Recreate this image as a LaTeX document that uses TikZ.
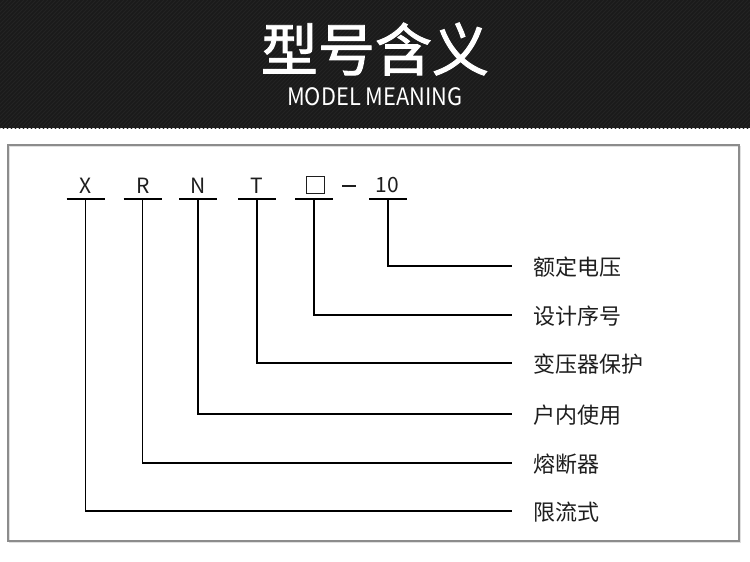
\documentclass[tikz,border=0pt]{standalone}
\usepackage{fontspec}
\usepackage{graphicx}
\setmainfont{Noto Sans CJK SC}
\newfontfamily\titlefont[FakeBold=1.6]{Noto Sans CJK SC}
\definecolor{hdr}{HTML}{1A1A1A}
\definecolor{stripe}{HTML}{232323}
\definecolor{boxgray}{HTML}{8C8C8C}
\definecolor{labtext}{HTML}{1E1E1E}
\tikzset{
  ln/.style={line width=1.2pt, black},
  code/.style={inner sep=0pt, font=\fontsize{21}{21}\selectfont, text=labtext},
  lab/.style={inner sep=0pt, anchor=west, font=\fontsize{22}{22}\selectfont, text=labtext},
}
\begin{document}
\begin{tikzpicture}[x=1pt,y=-1pt]
\useasboundingbox (0,0) rectangle (750,562);
\fill[white] (0,0) rectangle (750,562);
% header
\fill[hdr] (0,0) rectangle (750,128);
\begin{scope}
  \clip (0,0) rectangle (750,128);
  \foreach \i in {0,4,...,900} \draw[stripe, line width=1pt] (\i,0) -- (\i-130,130);
\end{scope}
\node[white, inner sep=0pt, font=\titlefont\fontsize{57}{57}\selectfont] (title) at (375,49) {型号含义};
\node[white, inner sep=0pt, font=\fontsize{24}{24}\selectfont] (subtitle) at (375,96.5) {\scalebox{0.91}[1]{MODEL MEANING}};
% frame
\draw[black!12, line width=1.5pt] (9.5,146.5) rectangle (740.5,542.5);
\draw[boxgray, line width=1.3pt] (8,145) rectangle (739,541);
% code letters
\node[code] (cX) at (85.7,185.5) {X};
\node[code] (cR) at (142.7,185.5) {R};
\node[code] (cN) at (198,185.5) {N};
\node[code] (cT) at (257,185.5) {T};
\node[draw=labtext, line width=1pt, minimum width=18pt, minimum height=17pt, inner sep=0pt] (cB) at (315,184.7) {};
\node[inner sep=0pt] (dash) at (349,186) {\color{labtext}\rule{14pt}{1.2pt}};
\node[code] (c10) at (387,185.5) {10};
% underline centres
\coordinate (uX) at (85.7,199);
\coordinate (uR) at (142.7,199);
\coordinate (uN) at (198,199);
\coordinate (uT) at (257,199);
\coordinate (uB) at (314,199);
\coordinate (u10) at (388,199);
\foreach \u in {uX,uR,uN,uT,uB,u10}
  \draw[ln] ([xshift=-19pt]\u) -- ([xshift=19pt]\u);
% labels
\node[lab] (l10) at (533,267) {额定电压};
\node[lab] (lB)  at (533,316) {设计序号};
\node[lab] (lT)  at (533,364) {变压器保护};
\node[lab] (lN)  at (533,415) {户内使用};
\node[lab] (lR)  at (533,464) {熔断器};
\node[lab] (lX)  at (533,512) {限流式};
% connectors
\draw[ln] (u10) |- ([xshift=-21pt,yshift=1pt]l10.west);
\draw[ln] (uB)  |- ([xshift=-21pt,yshift=1pt]lB.west);
\draw[ln] (uT)  |- ([xshift=-21pt,yshift=1pt]lT.west);
\draw[ln] (uN)  |- ([xshift=-21pt,yshift=1pt]lN.west);
\draw[ln] (uR)  |- ([xshift=-21pt,yshift=1pt]lR.west);
\draw[ln] (uX)  |- ([xshift=-21pt,yshift=1pt]lX.west);
\end{tikzpicture}
\end{document}
